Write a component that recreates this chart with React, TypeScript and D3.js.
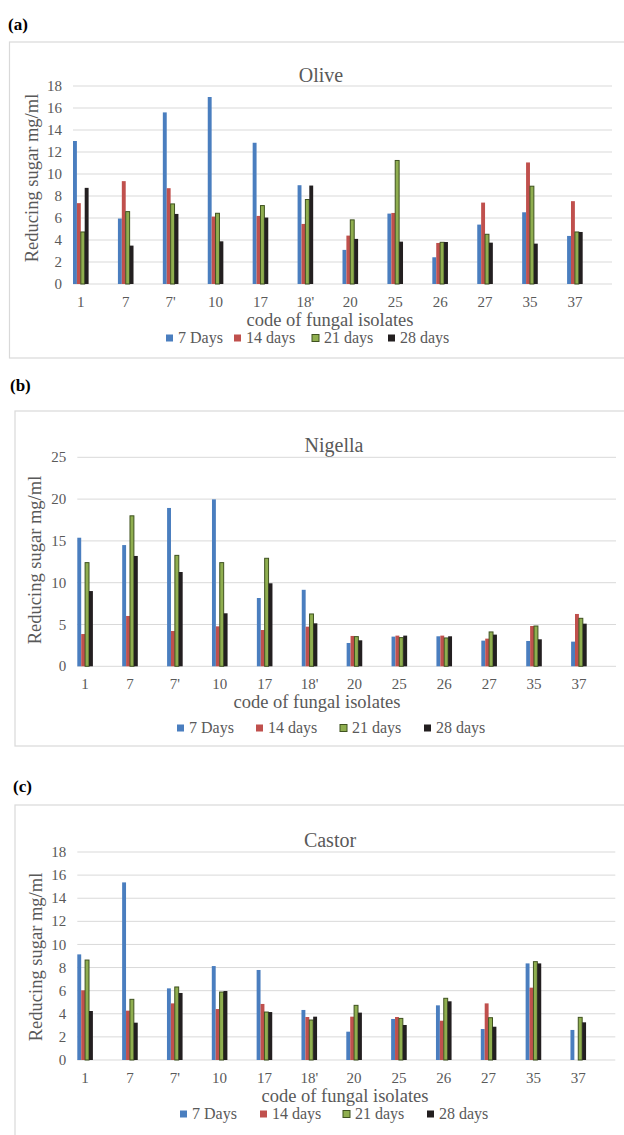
import React from "react";
import * as d3 from "d3";

// fungal isolate codes on the x axis
const categories = ["1", "7", "7'", "10", "17", "18'", "20", "25", "26", "27", "35", "37"];
const seriesNames = ["7 Days", "14 days", "21 days", "28 days"];
const seriesColors = ["#4a7ebf", "#c0504d", "#8fae4f", "#231f20"];

// (a) Olive
const olive7 = [13.0, 5.95, 15.6, 17.0, 12.84, 8.98, 3.1, 6.4, 2.43, 5.4, 6.52, 4.37];
const olive14 = [7.35, 9.35, 8.71, 6.13, 6.19, 5.46, 4.4, 6.46, 3.73, 7.4, 11.05, 7.53];
const olive21 = [4.73, 6.58, 7.28, 6.43, 7.13, 7.68, 5.83, 11.23, 3.79, 4.52, 8.89, 4.73];
const olive28 = [8.74, 3.49, 6.37, 3.88, 6.04, 8.95, 4.1, 3.85, 3.82, 3.76, 3.67, 4.73];

// (b) Nigella
const nigella7 = [15.38, 14.5, 18.94, 19.97, 8.17, 9.15, 2.79, 3.55, 3.59, 3.07, 3.03, 2.95];
const nigella14 = [3.86, 6.02, 4.22, 4.78, 4.34, 4.74, 3.63, 3.67, 3.67, 3.31, 4.82, 6.26];
const nigella21 = [12.4, 18.0, 13.27, 12.4, 12.92, 6.26, 3.55, 3.43, 3.39, 4.11, 4.82, 5.74];
const nigella28 = [9.0, 13.2, 11.28, 6.34, 9.93, 5.14, 3.11, 3.67, 3.59, 3.79, 3.23, 5.1];

// (c) Castor
const castor7 = [9.14, 15.37, 6.2, 8.13, 7.79, 4.33, 2.45, 3.55, 4.73, 2.68, 8.36, 2.6];
const castor14 = [6.03, 4.27, 4.9, 4.41, 4.85, 3.72, 3.75, 3.72, 3.4, 4.9, 6.26, 0];
const castor21 = [8.65, 5.25, 6.32, 5.88, 4.15, 3.46, 4.73, 3.6, 5.34, 3.66, 8.51, 3.69];
const castor28 = [4.24, 3.23, 5.8, 5.97, 4.15, 3.75, 4.1, 3.03, 5.08, 2.88, 8.36, 3.26];

const oliveTicks = [0, 2, 4, 6, 8, 10, 12, 14, 16, 18];
const nigellaTicks = [0, 5, 10, 15, 20, 25];
const castorTicks = [0, 2, 4, 6, 8, 10, 12, 14, 16, 18];

const FONT = "'Liberation Serif', 'Times New Roman', serif";
const GREY = "#595959";

type PanelProps = {
  tag: string;
  title: string;
  series: number[][];
  ticks: number[];
  lay: any;
};

function Panel({ tag, title, series, ticks, lay }: PanelProps) {
  const x = d3.scaleBand().domain(categories).range([lay.left, lay.right]).padding(0);
  const sub = d3.scaleBand().domain(seriesNames).range([0, 15.6]).padding(0);
  const y = d3.scaleLinear().domain([0, ticks[ticks.length - 1]]).range([lay.y0, lay.yTop]);

  return (
    <g>
      <text x={lay.tagX} y={lay.tagY} fontFamily={FONT} fontWeight="bold" fontSize={17} fill="#000">
        {tag}
      </text>
      <rect x={lay.boxX} y={lay.boxY} width={660} height={lay.boxH} fill="#fff" stroke="#d9d9d9" strokeWidth={1.2} />
      <text x={lay.titleX} y={lay.titleY} textAnchor="middle" fontFamily={FONT} fontSize={20} fill={GREY}>
        {title}
      </text>
      {ticks.map((t) => (
        <g key={t}>
          <line x1={lay.left} x2={lay.right} y1={y(t)} y2={y(t)} stroke="#d9d9d9" strokeWidth={1} />
          <text x={lay.left - 11} y={y(t)} dy="0.34em" textAnchor="end" fontFamily={FONT} fontSize={15} fill={GREY}>
            {t}
          </text>
        </g>
      ))}
      {series.map((vals, si) =>
        vals.map((v, ci) =>
          v > 0 ? (
            <rect
              key={si + "-" + ci}
              x={(x(categories[ci]) as number) + (sub(seriesNames[si]) as number)}
              y={y(v)}
              width={sub.bandwidth()}
              height={y(0) - y(v)}
              fill={seriesColors[si]}
              stroke={si === 2 ? "#3f5220" : "none"}
              strokeWidth={si === 2 ? 1 : 0}
            />
          ) : null
        )
      )}
      {categories.map((c) => (
        <text
          key={c}
          x={(x(c) as number) + 7.8}
          y={lay.xTickY}
          textAnchor="middle"
          fontFamily={FONT}
          fontSize={15}
          fill={GREY}
        >
          {c}
        </text>
      ))}
      <text x={lay.xTitleX} y={lay.xTitleY} textAnchor="middle" fontFamily={FONT} fontSize={18.5} fill={GREY}>
        code of fungal isolates
      </text>
      <text
        transform={`translate(${lay.yTitleX},${lay.yTitleY}) rotate(-90)`}
        textAnchor="middle"
        fontFamily={FONT}
        fontSize={18.5}
        fill={GREY}
      >
        Reducing sugar mg/ml
      </text>
      {seriesNames.map((s, i) => (
        <g key={s}>
          <rect x={lay.legendX[i]} y={lay.legendY - 3.5} width={7} height={7} fill={seriesColors[i]}
            stroke={i === 2 ? "#3f5220" : "none"} strokeWidth={i === 2 ? 1 : 0} />
          <text x={lay.legendX[i] + 12} y={lay.legendY} dy="0.34em" fontFamily={FONT} fontSize={16} fill={GREY}>
            {s}
          </text>
        </g>
      ))}
    </g>
  );
}

const layA = {
  tagX: 8, tagY: 30, boxX: 9.5, boxY: 42, boxH: 316,
  left: 73, right: 612, y0: 284, yTop: 86,
  titleX: 321, titleY: 82, xTickY: 307, xTitleX: 330, xTitleY: 326,
  yTitleX: 38, yTitleY: 178, legendY: 338, legendX: [166, 234, 312, 388],
};
const layB = {
  tagX: 10, tagY: 391, boxX: 15, boxY: 411, boxH: 335,
  left: 77.3, right: 616, y0: 666.3, yTop: 457.3,
  titleX: 334, titleY: 452, xTickY: 689, xTitleX: 317, xTitleY: 708,
  yTitleX: 41, yTitleY: 560, legendY: 728, legendX: [177, 256, 340, 424],
};
const layC = {
  tagX: 13, tagY: 792, boxX: 15, boxY: 805, boxH: 400,
  left: 77.3, right: 615.3, y0: 1060, yTop: 852,
  titleX: 330, titleY: 847, xTickY: 1083, xTitleX: 345, xTitleY: 1102,
  yTitleX: 42, yTitleY: 957, legendY: 1114, legendX: [180, 260, 343, 427],
};

export default function App() {
  return (
    <svg
      width={624}
      height={1135}
      style={{ position: "absolute", left: 0, top: 0, background: "#fff" }}
    >
      <rect width={624} height={1135} fill="#fff" />
      <Panel tag="(a)" title="Olive" series={[olive7, olive14, olive21, olive28]} ticks={oliveTicks} lay={layA} />
      <Panel tag="(b)" title="Nigella" series={[nigella7, nigella14, nigella21, nigella28]} ticks={nigellaTicks} lay={layB} />
      <Panel tag="(c)" title="Castor" series={[castor7, castor14, castor21, castor28]} ticks={castorTicks} lay={layC} />
    </svg>
  );
}
